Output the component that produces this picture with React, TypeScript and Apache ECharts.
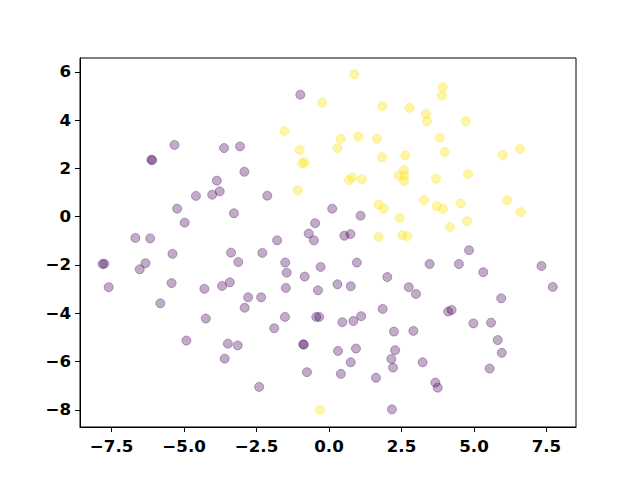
import React, { useEffect, useRef } from "react";
import * as echarts from "echarts";

const purpleX = [
  -5.33, -6.13, -6.10, -3.62, -3.07, -2.92, -3.87, -3.77, -4.03, -4.59, -5.24, -3.28, -4.98, -6.68, -6.17,
  -0.99, -2.13, 0.11, -0.48, 1.09, -0.70, -0.52, -1.79, 0.53, 0.74,
  -7.81, -7.75, -7.60, -6.53, -6.33, -5.40, -5.43, -5.82, -3.38, -3.13, -4.30, -3.69, -3.42, -2.79, -2.91, -4.25, -4.92, -3.49, -3.15, -3.60,
  -2.30, -1.51, -1.46, -0.84, -0.29, 0.96, 2.01, 2.75, -1.49, -0.38, 0.29, 0.75, -2.34, -1.52, -0.44, -0.34, -1.89, 0.46, 0.84, 1.11, 1.85, 2.24, -0.89, -0.87, 0.31, 0.93, 2.28, 2.15, 2.21, 0.75, -0.76, 0.41, 1.62, -2.41, 2.17,
  4.83, 3.47, 4.48, 5.32, 7.33, 7.72, 3.00, 5.94, 4.11, 4.23, 4.98, 5.59, 2.91, 5.82, 5.96, 5.54, 3.23, 3.67, 3.75,
];
const purpleY = [
  2.97, 2.36, 2.34, 2.84, 2.91, 1.86, 1.49, 1.05, 0.91, 0.86, 0.33, 0.14, -0.25, -0.88, -0.90,
  5.05, 0.87, 0.33, -0.27, 0.04, -0.70, -0.98, -0.98, -0.79, -0.72,
  -1.96, -1.95, -2.92, -2.18, -1.93, -1.54, -2.75, -3.59, -1.49, -1.88, -2.99, -2.87, -2.72, -3.34, -3.77, -4.22, -5.13, -5.26, -5.33, -5.88,
  -1.50, -1.90, -2.32, -2.48, -2.08, -1.90, -2.50, -2.92, -2.95, -3.05, -2.80, -2.88, -3.34, -4.15, -4.15, -4.15, -4.62, -4.37, -4.32, -4.12, -3.82, -4.76, -5.28, -5.30, -5.56, -5.46, -5.53, -5.89, -6.25, -6.03, -6.44, -6.51, -6.67, -7.05, -7.98,
  -1.39, -1.96, -1.96, -2.30, -2.04, -2.91, -3.20, -3.38, -3.93, -3.86, -4.42, -4.39, -4.73, -5.11, -5.64, -6.29, -6.03, -6.87, -7.08,
];
const yellowX = [
  0.87, -0.24, 1.84, 2.78, -1.54, 0.40, 1.01, 1.66, 0.29, -1.01, 1.83, 2.63, -0.93, -0.84, 0.80, 0.69, 1.13, 2.40, 2.58, 2.59, 2.59, -1.08, 1.71, 1.89, 2.44, 1.71, 2.53, 2.70,
  3.92, 3.89, 3.34, 3.38, 4.72, 3.82, 3.99, 5.99, 6.59, 4.80, 3.69, 3.28, 3.72, 3.93, 4.54, 6.14, 6.61, 4.76, 4.17, -0.31,
];
const yellowY = [
  5.90, 4.72, 4.58, 4.51, 3.54, 3.22, 3.31, 3.23, 2.83, 2.77, 2.46, 2.54, 2.21, 2.25, 1.62, 1.51, 1.55, 1.70, 1.93, 1.70, 1.48, 1.09, 0.50, 0.33, -0.05, -0.84, -0.77, -0.81,
  5.36, 5.01, 4.25, 3.95, 3.95, 3.27, 2.68, 2.55, 2.80, 1.77, 1.57, 0.68, 0.44, 0.32, 0.55, 0.68, 0.19, -0.19, -0.43, -8.00,
];
const xTicks = [-7.5, -5, -2.5, 0, 2.5, 5, 7.5];
const yTicks = [-8, -6, -4, -2, 0, 2, 4, 6];

const fmt = (v: number, d: number) => {
  const s = Math.abs(v).toFixed(d);
  return v < 0 ? "\u2212" + s : s;
};

export default function App() {
  const ref = useRef<HTMLDivElement>(null);
  useEffect(() => {
    if (!ref.current) return;
    const chart = echarts.init(ref.current, null, { renderer: "svg" });
    const labelStyle = {
      color: "#000",
      fontFamily: "DejaVu Sans",
      fontWeight: "bold" as const,
      fontSize: 16.67,
    };
    chart.setOption({
      animation: false,
      backgroundColor: "#fff",
      grid: {
        left: 80,
        right: 64,
        top: 58,
        bottom: 53,
        show: true,
        borderColor: "#000",
        borderWidth: 1,
        containLabel: false,
      },
      xAxis: {
        type: "value",
        min: -8.59,
        max: 8.52,
        splitLine: { show: false },
        axisLine: { show: true, onZero: false, lineStyle: { color: "#000", width: 1 } },
        axisTick: { show: true, inside: false, length: 5, lineStyle: { color: "#000" }, customValues: xTicks },
        axisLabel: { ...labelStyle, margin: 11, customValues: xTicks, formatter: (v: number) => fmt(v, 1) },
      },
      yAxis: {
        type: "value",
        min: -8.71,
        max: 6.57,
        splitLine: { show: false },
        axisLine: { show: true, onZero: false, lineStyle: { color: "#000", width: 1 } },
        axisTick: { show: true, inside: false, length: 5, lineStyle: { color: "#000" }, customValues: yTicks },
        axisLabel: { ...labelStyle, margin: 9, customValues: yTicks, formatter: (v: number) => fmt(v, 0) },
      },
      series: [
        {
          type: "scatter",
          symbolSize: 9,
          data: purpleX.map((x, i) => [x, purpleY[i]]),
          itemStyle: { color: "#440154", borderColor: "#440154", borderWidth: 1, opacity: 0.33 },
          emphasis: { disabled: true },
        },
        {
          type: "scatter",
          symbolSize: 9,
          data: yellowX.map((x, i) => [x, yellowY[i]]),
          itemStyle: { color: "#fde725", borderColor: "#fde725", borderWidth: 1, opacity: 0.4 },
          emphasis: { disabled: true },
        },
      ],
    });
    return () => chart.dispose();
  }, []);
  return <div ref={ref} style={{ width: 640, height: 480, position: "absolute", left: 0, top: 0 }} />;
}
